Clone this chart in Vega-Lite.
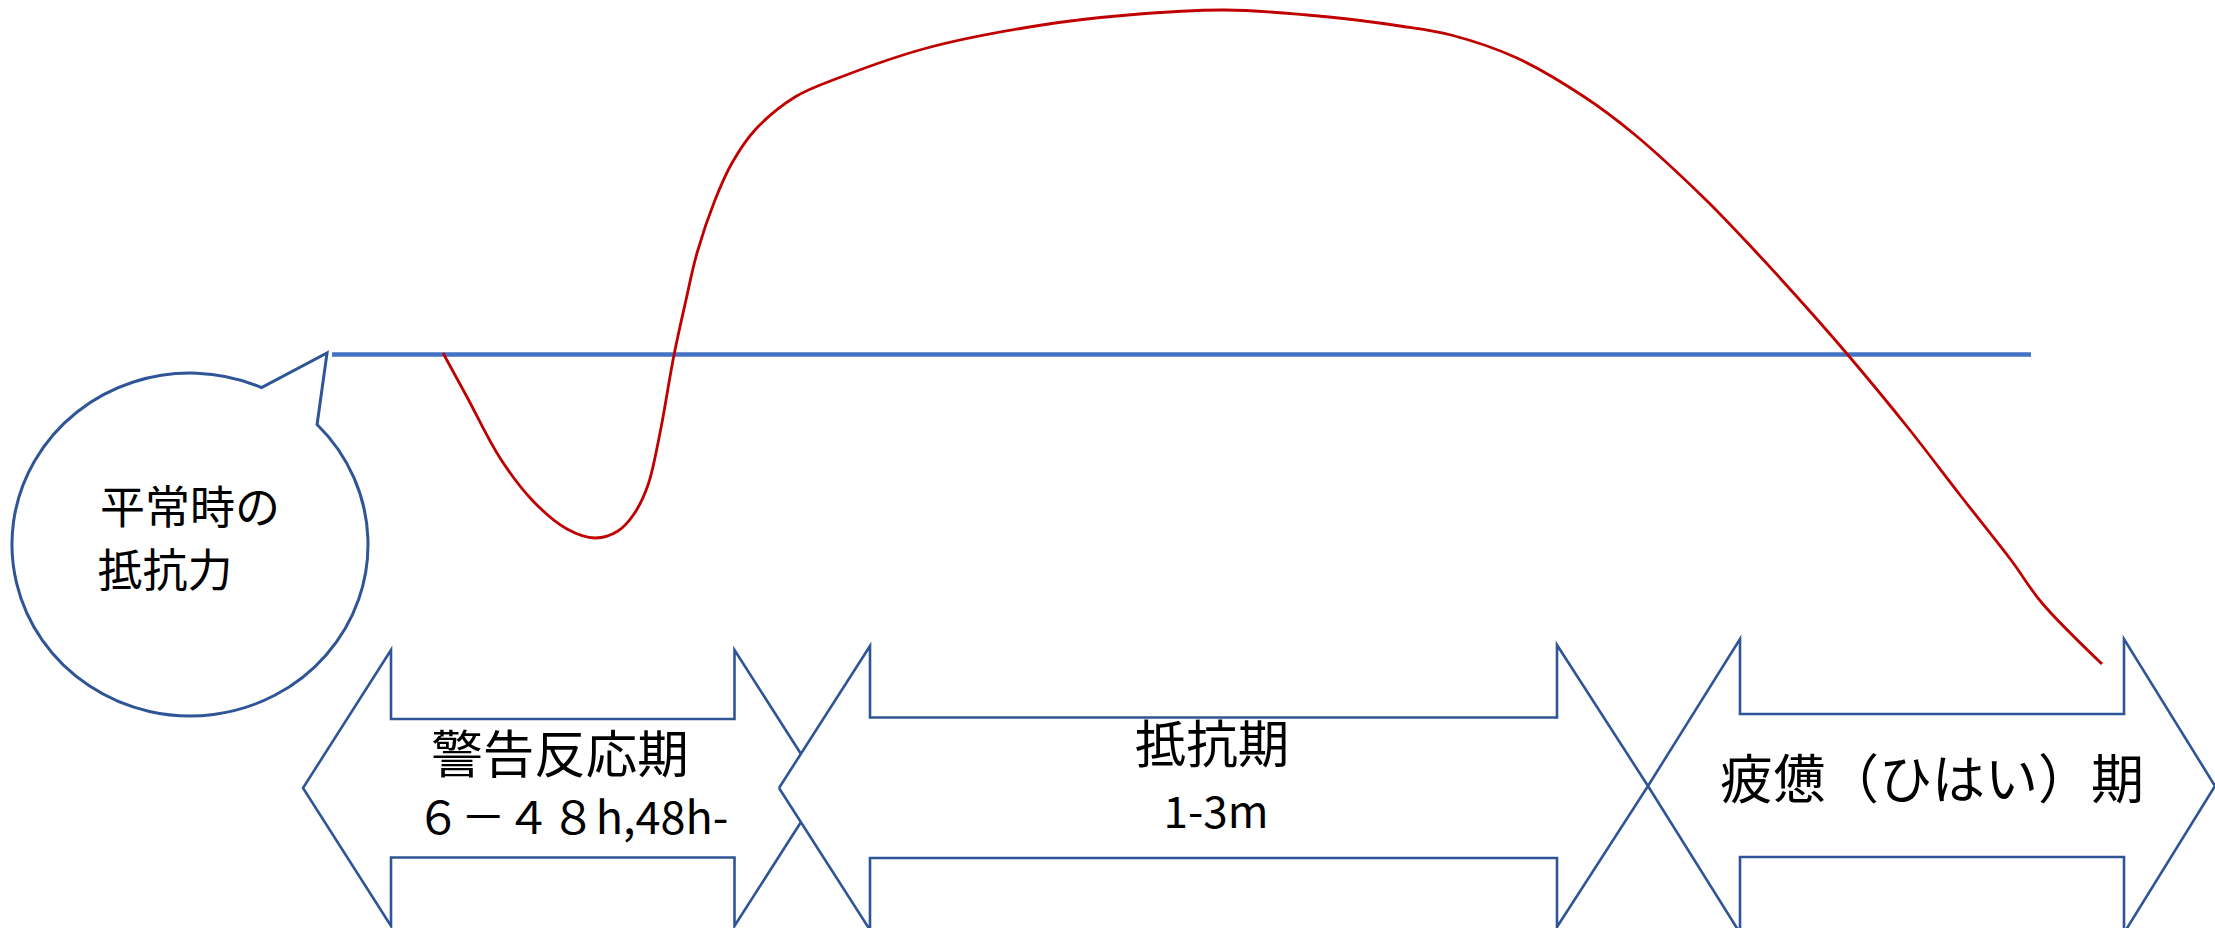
{
  "$schema": "https://vega.github.io/schema/vega-lite/v6.json",
  "width": 2215,
  "height": 928,
  "autosize": "none",
  "padding": 0,
  "background": "white",
  "config": {"view": {"stroke": null}},
  "datasets": {
    "bubble": [{"x": 190.7, "y": 544.3}],
    "baseline": [{"x": 332, "x2": 2031, "y": 354.6}],
    "resistance": [
      {"i": 1, "x": 443, "y": 353},
      {"i": 2, "x": 467, "y": 397},
      {"i": 3, "x": 500, "y": 458},
      {"i": 4, "x": 533, "y": 501},
      {"i": 5, "x": 567, "y": 529},
      {"i": 6, "x": 595, "y": 538},
      {"i": 7, "x": 618, "y": 531},
      {"i": 8, "x": 634, "y": 514},
      {"i": 9, "x": 648, "y": 485},
      {"i": 10, "x": 660, "y": 433},
      {"i": 11, "x": 674, "y": 355},
      {"i": 12, "x": 686, "y": 300},
      {"i": 13, "x": 697, "y": 253},
      {"i": 14, "x": 715, "y": 200},
      {"i": 15, "x": 732, "y": 163},
      {"i": 16, "x": 755, "y": 130},
      {"i": 17, "x": 795, "y": 97},
      {"i": 18, "x": 841, "y": 77},
      {"i": 19, "x": 927, "y": 48},
      {"i": 20, "x": 1042, "y": 25},
      {"i": 21, "x": 1128, "y": 15},
      {"i": 22, "x": 1225, "y": 10},
      {"i": 23, "x": 1329, "y": 17},
      {"i": 24, "x": 1400, "y": 26},
      {"i": 25, "x": 1451, "y": 35},
      {"i": 26, "x": 1517, "y": 58},
      {"i": 27, "x": 1583, "y": 96},
      {"i": 28, "x": 1634, "y": 134},
      {"i": 29, "x": 1705, "y": 199},
      {"i": 30, "x": 1756, "y": 252},
      {"i": 31, "x": 1807, "y": 308},
      {"i": 32, "x": 1848, "y": 355},
      {"i": 33, "x": 1909, "y": 429},
      {"i": 34, "x": 1960, "y": 495},
      {"i": 35, "x": 2011, "y": 560},
      {"i": 36, "x": 2042, "y": 603},
      {"i": 37, "x": 2102, "y": 664}
    ],
    "arrows": [
      {"arrow": "a1", "i": 1, "x": 801, "y": 754},
      {"arrow": "a1", "i": 2, "x": 734.5, "y": 650},
      {"arrow": "a1", "i": 3, "x": 734.5, "y": 719},
      {"arrow": "a1", "i": 4, "x": 391, "y": 719},
      {"arrow": "a1", "i": 5, "x": 391, "y": 650},
      {"arrow": "a1", "i": 6, "x": 303, "y": 788},
      {"arrow": "a1", "i": 7, "x": 391, "y": 926},
      {"arrow": "a1", "i": 8, "x": 391, "y": 857.5},
      {"arrow": "a1", "i": 9, "x": 734.5, "y": 857.5},
      {"arrow": "a1", "i": 10, "x": 734.5, "y": 926},
      {"arrow": "a1", "i": 11, "x": 801, "y": 822},
      {"arrow": "a2", "i": 1, "x": 779, "y": 788},
      {"arrow": "a2", "i": 2, "x": 870, "y": 646},
      {"arrow": "a2", "i": 3, "x": 870, "y": 717.5},
      {"arrow": "a2", "i": 4, "x": 1557, "y": 717.5},
      {"arrow": "a2", "i": 5, "x": 1557, "y": 645},
      {"arrow": "a2", "i": 6, "x": 1648, "y": 786},
      {"arrow": "a2", "i": 7, "x": 1557, "y": 927},
      {"arrow": "a2", "i": 8, "x": 1557, "y": 858},
      {"arrow": "a2", "i": 9, "x": 870, "y": 858},
      {"arrow": "a2", "i": 10, "x": 870, "y": 930},
      {"arrow": "a2", "i": 11, "x": 779, "y": 788},
      {"arrow": "a3", "i": 1, "x": 1648, "y": 786},
      {"arrow": "a3", "i": 2, "x": 1740, "y": 639},
      {"arrow": "a3", "i": 3, "x": 1740, "y": 714},
      {"arrow": "a3", "i": 4, "x": 2124, "y": 714},
      {"arrow": "a3", "i": 5, "x": 2124, "y": 639},
      {"arrow": "a3", "i": 6, "x": 2215, "y": 786},
      {"arrow": "a3", "i": 7, "x": 2124, "y": 933},
      {"arrow": "a3", "i": 8, "x": 2124, "y": 857},
      {"arrow": "a3", "i": 9, "x": 1740, "y": 857},
      {"arrow": "a3", "i": 10, "x": 1740, "y": 933},
      {"arrow": "a3", "i": 11, "x": 1648, "y": 786}
    ],
    "labels": [
      {"label": "平常時の", "kind": "bubble", "x": 190, "y": 510},
      {"label": "抵抗力", "kind": "bubble", "x": 165, "y": 573},
      {"label": "警告反応期", "kind": "phase", "x": 560, "y": 758},
      {"label": "６－４８h,48h-", "kind": "period_h", "x": 572, "y": 820},
      {"label": "抵抗期", "kind": "phase", "x": 1212, "y": 748},
      {"label": "1-3m", "kind": "period_m", "x": 1216, "y": 815},
      {"label": "疲憊（ひはい）期", "kind": "phase_long", "x": 1932, "y": 783}
    ]
  },
  "layer": [
    {
      "data": {"name": "bubble"},
      "mark": {
        "type": "point",
        "shape": "M 0.398 -0.8805 A 1 0.963 0 1 0 0.710 -0.673 L 0.766 -1.0746 Z",
        "size": 126736,
        "fill": "white",
        "fillOpacity": 1,
        "stroke": "#2F5597",
        "strokeWidth": 3,
        "strokeJoin": "miter",
        "opacity": 1
      },
      "encoding": {
        "x": {"field": "x", "type": "quantitative", "scale": {"domain": [0, 2215], "nice": false, "zero": false}, "axis": null},
        "y": {"field": "y", "type": "quantitative", "scale": {"domain": [0, 928], "nice": false, "zero": false, "reverse": true}, "axis": null}
      }
    },
    {
      "data": {"name": "baseline"},
      "mark": {"type": "rule", "stroke": "#4472C4", "strokeWidth": 4.5},
      "encoding": {
        "x": {"field": "x", "type": "quantitative", "axis": null},
        "x2": {"field": "x2"},
        "y": {"field": "y", "type": "quantitative", "axis": null}
      }
    },
    {
      "data": {"name": "resistance"},
      "mark": {"type": "line", "stroke": "#C00000", "strokeWidth": 2.8, "interpolate": "catmull-rom"},
      "encoding": {
        "x": {"field": "x", "type": "quantitative", "axis": null},
        "y": {"field": "y", "type": "quantitative", "axis": null},
        "order": {"field": "i", "type": "quantitative"}
      }
    },
    {
      "data": {"name": "arrows"},
      "mark": {"type": "line", "stroke": "#2F5597", "strokeWidth": 2.6, "strokeJoin": "miter", "interpolate": "linear"},
      "encoding": {
        "x": {"field": "x", "type": "quantitative", "axis": null},
        "y": {"field": "y", "type": "quantitative", "axis": null},
        "detail": {"field": "arrow", "type": "nominal"},
        "order": {"field": "i", "type": "quantitative"}
      }
    },
    {
      "data": {"name": "labels"},
      "transform": [{"filter": "datum.kind === 'bubble'"}],
      "mark": {"type": "text", "font": "Noto Sans CJK JP", "fontSize": 45, "align": "center", "baseline": "middle", "color": "#000000"},
      "encoding": {
        "x": {"field": "x", "type": "quantitative", "axis": null},
        "y": {"field": "y", "type": "quantitative", "axis": null},
        "text": {"field": "label"}
      }
    },
    {
      "data": {"name": "labels"},
      "transform": [{"filter": "datum.kind === 'phase'"}],
      "mark": {"type": "text", "font": "Noto Sans CJK JP", "fontSize": 51.5, "align": "center", "baseline": "middle", "color": "#000000"},
      "encoding": {
        "x": {"field": "x", "type": "quantitative", "axis": null},
        "y": {"field": "y", "type": "quantitative", "axis": null},
        "text": {"field": "label"}
      }
    },
    {
      "data": {"name": "labels"},
      "transform": [{"filter": "datum.kind === 'phase_long'"}],
      "mark": {"type": "text", "font": "Noto Sans CJK JP", "fontSize": 53, "align": "center", "baseline": "middle", "color": "#000000"},
      "encoding": {
        "x": {"field": "x", "type": "quantitative", "axis": null},
        "y": {"field": "y", "type": "quantitative", "axis": null},
        "text": {"field": "label"}
      }
    },
    {
      "data": {"name": "labels"},
      "transform": [{"filter": "datum.kind === 'period_h'"}],
      "mark": {"type": "text", "font": "Noto Sans CJK JP", "fontSize": 45, "align": "center", "baseline": "middle", "color": "#000000"},
      "encoding": {
        "x": {"field": "x", "type": "quantitative", "axis": null},
        "y": {"field": "y", "type": "quantitative", "axis": null},
        "text": {"field": "label"}
      }
    },
    {
      "data": {"name": "labels"},
      "transform": [{"filter": "datum.kind === 'period_m'"}],
      "mark": {"type": "text", "font": "Noto Sans CJK JP", "fontSize": 44, "align": "center", "baseline": "middle", "color": "#000000"},
      "encoding": {
        "x": {"field": "x", "type": "quantitative", "axis": null},
        "y": {"field": "y", "type": "quantitative", "axis": null},
        "text": {"field": "label"}
      }
    }
  ]
}
